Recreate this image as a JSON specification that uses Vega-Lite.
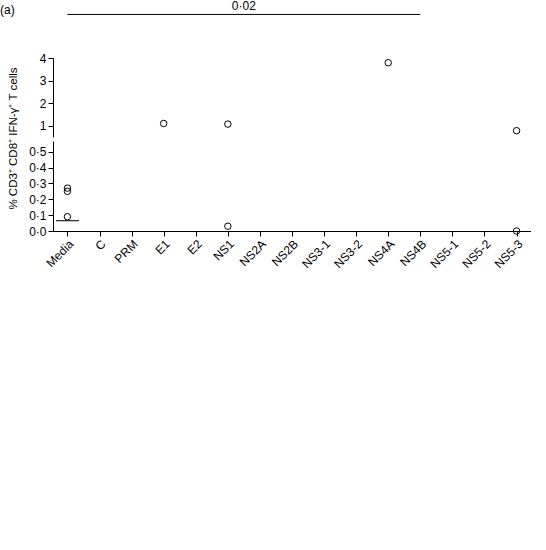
{
  "$schema": "https://vega.github.io/schema/vega-lite/v6.json",
  "padding": {"left": 0, "top": 0, "right": 0, "bottom": 0},
  "config": {
    "view": {"stroke": null},
    "font": "Liberation Sans",
    "axis": {"domainColor": "#000", "tickColor": "#000", "labelColor": "#000", "titleColor": "#000", "labelFontSize": 12, "titleFontSize": 11.5, "titleFontWeight": "normal", "tickSize": 5, "grid": false, "labelPadding": 2, "labelFlush": false, "labelOverlap": false, "labelBound": false},
    "title": {"fontSize": 12, "fontWeight": "normal", "anchor": "start", "frame": "group", "offset": 0, "color": "#000"}
  },
  "datasets": {
    "a": [
      {"g": "Media", "v": 0.25}, {"g": "Media", "v": 0.27}, {"g": "Media", "v": 0.09}, {"g": "E1", "v": 1.1}, {"g": "NS1", "v": 1.07}, {"g": "NS1", "v": 0.03}, {"g": "NS4A", "v": 3.79}, {"g": "NS5-3", "v": 0.78}, {"g": "NS5-3", "v": 0.0}
    ],
    "ma": [
      {"g": "NS1", "m": 0.85}, {"g": "Media", "m": 0.065}
    ],
    "ba": [
      {"from": "Media", "to": "NS4B", "y": 5.93, "p": "0·02"}
    ]
  },
  "spacing": 4,
  "bounds": "flush",
  "resolve": {"scale": {"x": "independent", "y": "independent"}},
  "vconcat": [
    {
      "width": 478,
      "height": 79,
      "title": {"text": "(a)", "dx": -53, "dy": 21},
      "encoding": {
        "x": {"field": "X", "type": "quantitative", "scale": {"domain": [-0.45, 14.45], "nice": false, "zero": false}, "axis": null},
        "y": {"field": "Y", "type": "quantitative", "scale": {"domain": [0.5, 4], "nice": false, "zero": false}, "axis": {"values": [1, 2, 3, 4], "format": "d", "title": null}}
      },
      "layer": [
        {
          "data": {"name": "ba"},
          "transform": [
            {"calculate": "indexof(['Media','C','PRM','E1','E2','NS1','NS2A','NS2B','NS3-1','NS3-2','NS4A','NS4B','NS5-1','NS5-2','NS5-3','PMA'], datum.from)", "as": "X"},
            {"calculate": "indexof(['Media','C','PRM','E1','E2','NS1','NS2A','NS2B','NS3-1','NS3-2','NS4A','NS4B','NS5-1','NS5-2','NS5-3','PMA'], datum.to)", "as": "X2"},
            {"calculate": "datum.y", "as": "Y"}
          ],
          "mark": {"type": "rule", "color": "#000", "strokeWidth": 1},
          "encoding": {"x2": {"field": "X2"}}
        },
        {
          "data": {"name": "ba"},
          "transform": [
            {"calculate": "(indexof(['Media','C','PRM','E1','E2','NS1','NS2A','NS2B','NS3-1','NS3-2','NS4A','NS4B','NS5-1','NS5-2','NS5-3','PMA'], datum.from) + indexof(['Media','C','PRM','E1','E2','NS1','NS2A','NS2B','NS3-1','NS3-2','NS4A','NS4B','NS5-1','NS5-2','NS5-3','PMA'], datum.to)) / 2", "as": "X"},
            {"calculate": "datum.y", "as": "Y"}
          ],
          "mark": {"type": "text", "fontSize": 12, "baseline": "bottom", "dy": -1, "color": "#000"},
          "encoding": {"text": {"field": "p"}}
        },
        {
          "data": {"name": "a"},
          "transform": [
            {"filter": "datum.v >= 0.5"},
            {"calculate": "indexof(['Media','C','PRM','E1','E2','NS1','NS2A','NS2B','NS3-1','NS3-2','NS4A','NS4B','NS5-1','NS5-2','NS5-3','PMA'], datum.g)", "as": "X"},
            {"calculate": "datum.v", "as": "Y"}
          ],
          "mark": {"type": "point", "stroke": "#000", "strokeWidth": 1, "opacity": 1, "size": 42}
        }
      ]
    },
    {
      "width": 478,
      "height": 90,
      "encoding": {
        "x": {"field": "X", "type": "quantitative", "scale": {"domain": [-0.45, 14.45], "nice": false, "zero": false}, "axis": {"values": [0,1,2,3,4,5,6,7,8,9,10,11,12,13,14], "labelExpr": "['Media','C','PRM','E1','E2','NS1','NS2A','NS2B','NS3-1','NS3-2','NS4A','NS4B','NS5-1','NS5-2','NS5-3','PMA'][datum.value]", "labelAngle": -45, "title": null}},
        "y": {"field": "Y", "type": "quantitative", "scale": {"domain": [0, 0.567], "nice": false, "zero": false}, "axis": {"values": [0, 0.1, 0.2, 0.3, 0.4, 0.5], "labelExpr": "replace(format(datum.value, '.1f'), '.', '·')", "title": "% CD3⁺ CD8⁺ IFN-γ⁺ T cells", "titleY": -3, "titlePadding": 10}}
      },
      "layer": [
        {
          "data": {"name": "a"},
          "transform": [
            {"filter": "datum.v < 0.5"},
            {"calculate": "indexof(['Media','C','PRM','E1','E2','NS1','NS2A','NS2B','NS3-1','NS3-2','NS4A','NS4B','NS5-1','NS5-2','NS5-3','PMA'], datum.g)", "as": "X"},
            {"calculate": "datum.v", "as": "Y"}
          ],
          "mark": {"type": "point", "stroke": "#000", "strokeWidth": 1, "opacity": 1, "size": 42}
        },
        {
          "data": {"name": "ma"},
          "transform": [
            {"filter": "datum.m < 0.5"},
            {"calculate": "indexof(['Media','C','PRM','E1','E2','NS1','NS2A','NS2B','NS3-1','NS3-2','NS4A','NS4B','NS5-1','NS5-2','NS5-3','PMA'], datum.g) - 0.36", "as": "X"},
            {"calculate": "indexof(['Media','C','PRM','E1','E2','NS1','NS2A','NS2B','NS3-1','NS3-2','NS4A','NS4B','NS5-1','NS5-2','NS5-3','PMA'], datum.g) + 0.36", "as": "X2"},
            {"calculate": "datum.m", "as": "Y"}
          ],
          "mark": {"type": "rule", "color": "#222", "strokeWidth": 1.2},
          "encoding": {"x2": {"field": "X2"}}
        }
      ]
    }
  ]
}
